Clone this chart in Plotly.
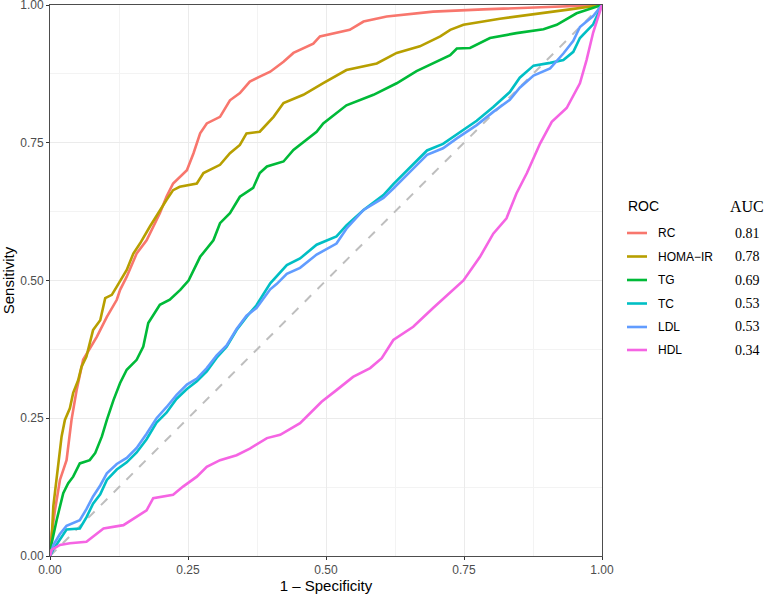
import plotly.graph_objects as go

# ---------------- data ----------------
rc_x = [0, .003, .009, .018, .03, .039, .048, .06, .085, .103, .121, .127, .139, .157, .175, .187, .199, .211, .223,
        .248, .26, .272, .284, .308, .326, .344, .362, .38, .399, .423, .441, .477, .489, .543, .568, .61, .694, .785,
        .906, 1]
rc_y = [0, .04, .083, .138, .174, .247, .30, .356, .398, .434, .465, .483, .507, .549, .573, .598, .622, .652, .676,
        .70, .731, .767, .785, .797, .827, .84, .861, .87, .879, .897, .913, .93, .943, .955, .97, .979, .988, .992,
        .996, 1]

homa_x = [0, .003, .006, .015, .021, .027, .036, .042, .051, .057, .066, .078, .091, .10, .112, .121, .139, .151, .163,
          .181, .199, .211, .223, .235, .266, .278, .308, .326, .344, .356, .38, .405, .423, .459, .495, .537, .592,
          .628, .67, .707, .725, .749, .815, .888, .942, 1]
homa_y = [0, .03, .09, .162, .217, .247, .268, .296, .319, .343, .362, .41, .428, .468, .474, .489, .519, .549, .567,
          .598, .628, .646, .664, .67, .676, .695, .71, .731, .746, .767, .77, .797, .822, .837, .858, .882, .894,
          .913, .925, .943, .955, .964, .975, .984, .992, 1]

tg_x = [0, .003, .012, .024, .033, .042, .054, .072, .082, .094, .103, .115, .127, .139, .157, .169, .178, .199, .217,
        .236, .251, .272, .296, .308, .326, .344, .368, .38, .393, .423, .441, .483, .495, .537, .586, .628, .664, .70,
        .725, .737, .761, .797, .845, .894, .918, .954, 1]
tg_y = [0, .023, .065, .114, .132, .144, .168, .174, .187, .217, .247, .283, .314, .338, .356, .38, .423, .456, .465,
        .483, .50, .543, .573, .604, .622, .652, .668, .695, .707, .716, .737, .77, .785, .818, .837, .858, .88, .898,
        .909, .921, .922, .94, .949, .956, .964, .985, 1]

chol_x = [0, .006, .018, .03, .054, .066, .078, .091, .103, .121, .139, .157, .175, .193, .211, .229, .248, .266, .284,
          .302, .32, .338, .356, .374, .399, .411, .429, .453, .483, .519, .537, .568, .604, .622, .658, .683, .712,
          .737, .773, .803, .833, .851, .876, .906, .93, .948, .96, .984, 1]
tc_y = [0, .012, .03, .048, .05, .07, .095, .112, .138, .157, .17, .188, .212, .242, .26, .285, .303, .317, .335,
        .36, .38, .41, .434, .455, .495, .508, .528, .54, .565, .58, .6, .628, .655, .675, .712, .736, .748,
        .765, .79, .815, .842, .868, .89, .895, .9, .915, .94, .965, 1]
ldl_y = [0, .02, .04, .055, .065, .085, .108, .128, .15, .167, .178, .196, .222, .25, .27, .292, .311, .322, .341,
         .364, .382, .412, .436, .45, .484, .494, .512, .523, .547, .567, .594, .628, .65, .667, .703, .728, .74,
         .758, .782, .806, .828, .85, .872, .885, .912, .935, .96, .98, 1]

hdl_x = [0, .003, .018, .036, .066, .078, .097, .133, .157, .175, .187, .223, .241, .266, .284, .308, .338, .362, .393,
         .417, .453, .471, .492, .519, .549, .58, .601, .622, .658, .694, .731, .749, .779, .803, .827, .845, .864,
         .888, .909, .936, .96, .972, .984, 1]
hdl_y = [0, .011, .02, .023, .026, .035, .05, .056, .071, .083, .105, .111, .126, .144, .162, .174, .183, .195, .214,
         .22, .241, .259, .28, .301, .325, .341, .359, .392, .416, .45, .483, .50, .543, .585, .613, .658, .695,
         .749, .788, .813, .858, .90, .95, 1]

names = ["RC", "HOMA\u2212IR", "TG", "TC", "LDL", "HDL"]
auc = ["0.81", "0.78", "0.69", "0.53", "0.53", "0.34"]
colors = ["#F8766D", "#B79F00", "#00BA38", "#00BFC4", "#619CFF", "#F564E3"]
series_x = [rc_x, homa_x, tg_x, chol_x, chol_x, hdl_x]
series_y = [rc_y, homa_y, tg_y, tc_y, ldl_y, hdl_y]

tick_vals = [0, 0.25, 0.5, 0.75, 1.0]
tick_text = ["0.00", "0.25", "0.50", "0.75", "1.00"]

# ---------------- figure ----------------
W, H = 767, 594
L, R, T, B = 50, 165, 5, 38
pw, ph = W - L - R, H - T - B

fig = go.Figure()

fig.add_trace(go.Scatter(x=[0, 1], y=[0, 1], mode="lines",
                         line=dict(color="#BEBEBE", width=2, dash="dash"),
                         showlegend=False, hoverinfo="skip"))

for nm, c, xs, ys in zip(names, colors, series_x, series_y):
    fig.add_trace(go.Scatter(x=xs, y=ys, mode="lines", name=nm,
                             line=dict(color=c, width=2.6), showlegend=False))

axis_common = dict(
    range=[0, 1], tickvals=tick_vals, ticktext=tick_text,
    showgrid=True, gridcolor="#EBEBEB", gridwidth=1,
    minor=dict(tickvals=[0.125, 0.375, 0.625, 0.875], showgrid=True, gridcolor="#F3F3F3", gridwidth=0.6,
               ticks=""),
    ticks="outside", ticklen=3, tickcolor="#333333", tickwidth=1,
    tickfont=dict(family="Liberation Sans, Arial, sans-serif", size=12, color="#4D4D4D"),
    ticklabeloverflow="allow",
    showline=True, linecolor="#4D4D4D", linewidth=1, mirror=True,
    zeroline=False, fixedrange=True,
)

fig.update_xaxes(**axis_common,
                 title=dict(text="1 \u2013 Specificity", standoff=6,
                            font=dict(family="Liberation Sans, Arial, sans-serif", size=15, color="#000000")))
fig.update_yaxes(**axis_common,
                 title=dict(text="Sensitivity", standoff=4,
                            font=dict(family="Liberation Sans, Arial, sans-serif", size=15, color="#000000")))

# ---- legend drawn as annotations / shapes ----
def px2paper(px, py):
    return (px - L) / pw, (H - B - py) / ph

annos = []
shapes = []
tx, ty = px2paper(626, 206)
annos.append(dict(x=tx, y=ty, xref="paper", yref="paper", text="ROC", showarrow=False,
                  xanchor="left", yanchor="middle",
                  font=dict(family="Liberation Sans, Arial, sans-serif", size=14, color="#000")))
ax_, ay_ = px2paper(728, 206)
annos.append(dict(x=ax_, y=ay_, xref="paper", yref="paper", text="AUC", showarrow=False,
                  xanchor="left", yanchor="middle",
                  font=dict(family="Liberation Serif, Times New Roman, serif", size=16, color="#000")))
ys_px = [233, 256.5, 280, 303.5, 327, 350]
for i, (nm, a, c) in enumerate(zip(names, auc, colors)):
    y0 = ys_px[i]
    x0p, yp = px2paper(627, y0)
    x1p, _ = px2paper(647, y0)
    shapes.append(dict(type="line", xref="paper", yref="paper", x0=x0p, x1=x1p, y0=yp, y1=yp,
                       line=dict(color=c, width=2.6)))
    lx, _ = px2paper(656, y0)
    annos.append(dict(x=lx, y=yp, xref="paper", yref="paper", text=nm, showarrow=False,
                      xanchor="left", yanchor="middle",
                      font=dict(family="Liberation Sans, Arial, sans-serif", size=12, color="#000")))
    vx, _ = px2paper(733, y0)
    annos.append(dict(x=vx, y=yp, xref="paper", yref="paper", text=a, showarrow=False,
                      xanchor="left", yanchor="middle",
                      font=dict(family="Liberation Serif, Times New Roman, serif", size=14, color="#000")))

fig.update_layout(
    width=W, height=H,
    margin=dict(l=L, r=R, t=T, b=B, autoexpand=False),
    plot_bgcolor="white", paper_bgcolor="white",
    annotations=annos, shapes=shapes,
    showlegend=False,
)

fig.write_html("out.html", config={"displayModeBar": False},
               post_script="document.body.style.margin='0';document.body.style.overflow='hidden';")
